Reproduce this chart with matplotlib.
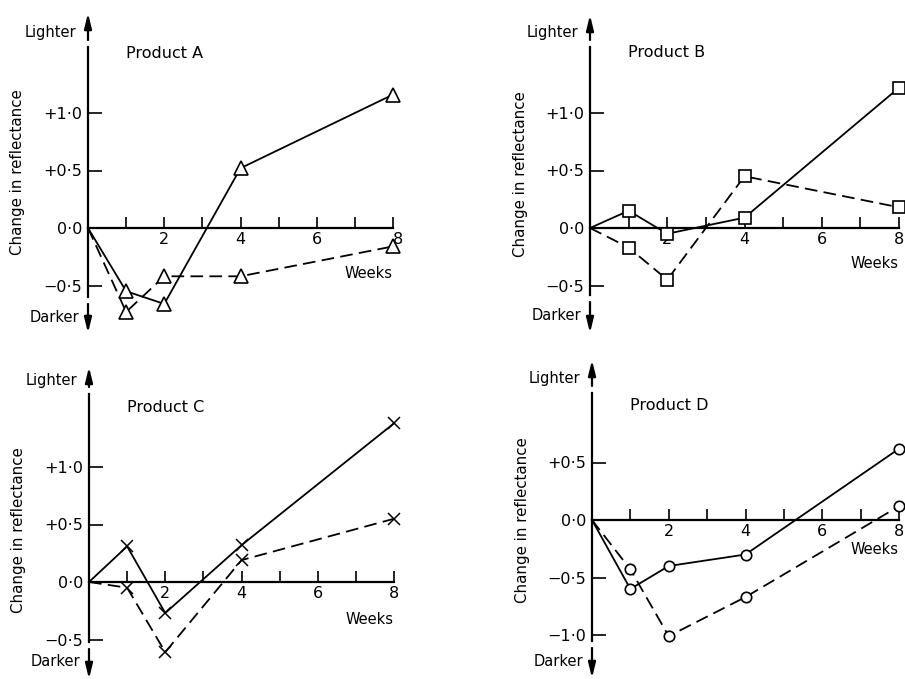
import matplotlib
matplotlib.use('Agg')
import matplotlib.pyplot as plt

# ---- data ----
weeks = [0, 1, 2, 4, 8]
a_solid = [0, -0.55, -0.66, 0.52, 1.16]
a_dashed = [0, -0.73, -0.42, -0.42, -0.16]
b_solid = [0, 0.15, -0.05, 0.09, 1.22]
b_dashed = [0, -0.17, -0.45, 0.45, 0.18]
c_solid = [0, 0.31, -0.27, 0.32, 1.38]
c_dashed = [0, -0.05, -0.61, 0.19, 0.55]
d_solid = [0, -0.60, -0.40, -0.30, 0.62]
d_dashed = [0, -0.43, -1.01, -0.67, 0.12]

products = ["Product A", "Product B", "Product C", "Product D"]
ytick_abd = [1.0, 0.5, 0.0, -0.5]
ytick_d = [0.5, 0.0, -0.5, -1.0]
xtick_major = [2, 4, 6, 8]
xtick_minor = [1, 3, 5, 7]


def fmt(v):
    if abs(v) < 1e-9:
        return "0\u00b70"
    s = "+" if v > 0 else "\u2212"
    t = f"{abs(v):.1f}".replace(".", "\u00b7")
    return s + t


W, H = 905, 679
fig = plt.figure(figsize=(W / 100, H / 100), dpi=100)
fig.patch.set_facecolor('white')
plt.rcParams['font.family'] = ['DejaVu Sans']

K = 115.0  # px per unit

panels = [
    dict(left=88, right=393, y0=228, top=13, bottom=333, light=33, dark=317,
         title_y=1.52, ylab_y=0.49, weeks_dy=46, marker='^', ms=10,
         solid=a_solid, dashed=a_dashed, yt=ytick_abd, name=products[0]),
    dict(left=590, right=899, y0=228, top=15, bottom=333, light=33, dark=315,
         title_y=1.53, ylab_y=0.47, weeks_dy=35, marker='s', ms=8,
         solid=b_solid, dashed=b_dashed, yt=ytick_abd, name=products[1]),
    dict(left=89, right=394, y0=582, top=367, bottom=679, light=380, dark=662,
         title_y=1.52, ylab_y=0.45, weeks_dy=37, marker='x', ms=8.5,
         solid=c_solid, dashed=c_dashed, yt=ytick_abd, name=products[2]),
    dict(left=592, right=899, y0=520, top=360, bottom=678, light=379, dark=661,
         title_y=1.0, ylab_y=0.0, weeks_dy=29, marker='o', ms=7.5,
         solid=d_solid, dashed=d_dashed, yt=ytick_d, name=products[3]),
]

for i, p in enumerate(panels):
    left, right, y0, top, bottom = p['left'], p['right'], p['y0'], p['top'], p['bottom']
    ymax = (y0 - top) / K
    ymin = -(bottom - y0) / K
    ax = fig.add_axes([left / W, 1 - bottom / H, (right - left) / W, (bottom - top) / H])
    ax.set_xlim(0, 8)
    ax.set_ylim(ymin, ymax)
    ax.patch.set_alpha(0)
    pxw = 8.0 / (right - left)  # data per px in x

    def ypx(py):
        return (y0 - py) / K

    for s in ['top', 'right']:
        ax.spines[s].set_visible(False)
    ax.spines['left'].set_position(('data', 0))
    ax.spines['bottom'].set_position(('data', 0))
    ax.spines['left'].set_linewidth(1.6)
    ax.spines['bottom'].set_linewidth(1.6)
    ax.spines['bottom'].set_bounds(0, 8)
    ax.spines['left'].set_bounds(ypx(p['dark'] - 20), ypx(p['light'] + 14))

    ax.set_yticks(p['yt'])
    ax.set_yticklabels([fmt(v) for v in p['yt']])
    ax.tick_params(axis='y', direction='in', length=10, width=1.2, pad=4, labelsize=11.5)
    ax.set_xticks(xtick_major)
    ax.set_xticklabels([str(v) for v in xtick_major])
    ax.set_xticks(xtick_minor, minor=True)
    ax.tick_params(axis='x', which='both', direction='in', length=8, width=1.2, pad=3, labelsize=11.5)
    if i == 0:
        ax.get_xticklabels()[-1].set_horizontalalignment('left')

    # arrows
    ax.annotate('', xy=(0, ymax), xytext=(0, ypx(p['light'] + 7)),
                arrowprops=dict(arrowstyle='-|>,head_length=0.9,head_width=0.22', color='black', lw=1.6,
                                shrinkA=0, shrinkB=0), annotation_clip=False)
    ax.annotate('', xy=(0, ymin), xytext=(0, ypx(p['dark'] - 13)),
                arrowprops=dict(arrowstyle='-|>,head_length=0.9,head_width=0.22', color='black', lw=1.6,
                                shrinkA=0, shrinkB=0), annotation_clip=False)

    ax.text(-12 * pxw, ypx(p['light']), "Lighter", ha='right', va='center', fontsize=10.5, clip_on=False)
    ax.text(-9 * pxw, ypx(p['dark']), "Darker", ha='right', va='center', fontsize=10.5, clip_on=False)
    ax.text(38 * pxw, p['title_y'], p['name'], ha='left', va='center', fontsize=11.5, clip_on=False)
    ax.text(-70 * pxw, p['ylab_y'], "Change in reflectance", rotation=90, ha='center', va='center',
            fontsize=10.8, clip_on=False)
    ax.text(8, -p['weeks_dy'] / K, "Weeks", ha='right', va='center', fontsize=10.5, clip_on=False)

    mk = p['marker']
    mfc = 'none' if mk == 'x' else 'white'
    mew = 1.1 if mk == 'x' else 1.2
    ax.plot(weeks, p['dashed'], color='black', lw=1.3, dashes=(7, 3.5), marker=mk, ms=p['ms'],
            mfc=mfc, mec='black', mew=mew, markevery=[1, 2, 3, 4], clip_on=False, zorder=3)
    ax.plot(weeks, p['solid'], color='black', lw=1.3, marker=mk, ms=p['ms'],
            mfc=mfc, mec='black', mew=mew, markevery=[1, 2, 3, 4], clip_on=False, zorder=4)

fig.savefig('out.png', dpi=100, facecolor='white')
